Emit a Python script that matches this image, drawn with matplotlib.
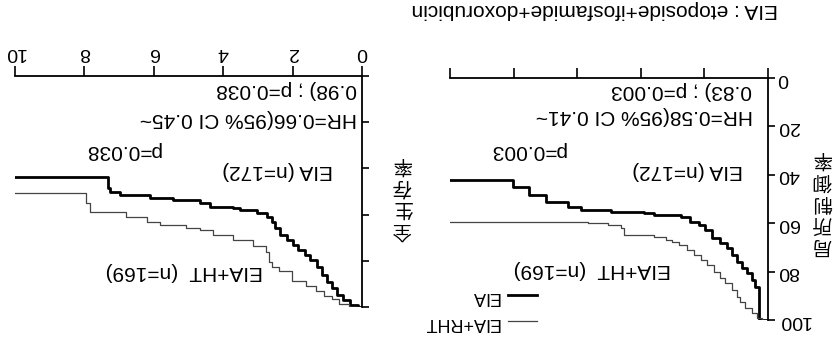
import matplotlib.pyplot as plt

plt.rcParams['font.family'] = ['Liberation Sans', 'Noto Sans CJK JP']

# local control rate (%), years
lc_eia_t = [0, 0.29, 0.4, 0.5, 0.66, 0.82, 0.97, 1.13, 1.29, 1.5, 1.76, 1.97, 2.18, 2.44, 2.75, 3.59, 3.9, 4.94, 5.88, 6.29, 6.98, 7.5, 8.02, 10]
lc_eia_v = [100, 86.2, 83.5, 80.7, 78.6, 75.9, 73.1, 70.4, 68.3, 66.2, 62.8, 60.7, 59.4, 57.3, 56.6, 55.9, 55.2, 54.5, 53.3, 51.2, 48.3, 45, 42.1, 42.1]
lc_ht_t = [0, 0.2, 0.34, 0.5, 0.71, 0.87, 0.97, 1.13, 1.34, 1.5, 1.7, 1.91, 2.12, 2.33, 2.54, 2.8, 3.01, 3.22, 3.59, 4.54, 4.63, 5.04, 5.66, 10]
lc_ht_v = [100, 99, 97.2, 95.2, 92.4, 90.4, 87.6, 84.8, 82.8, 80, 77.3, 75.2, 73.1, 71.1, 69, 67.6, 66.9, 65.6, 64.9, 62, 60.7, 59.9, 59.5, 59.5]

# overall survival rate (%), years
os_eia_t = [0, 0.11, 0.35, 0.54, 0.73, 0.87, 1.01, 1.16, 1.31, 1.5, 1.64, 1.84, 1.98, 2.17, 2.36, 2.51, 2.6, 2.75, 3.03, 3.52, 3.72, 4.38, 4.67, 5.45, 6.11, 6.97, 7.26, 7.32, 10]
os_eia_v = [100, 99, 97, 94.8, 91.9, 89, 86.1, 82.5, 79.7, 77.5, 75.3, 73.2, 71, 68.8, 65.9, 63.1, 60.9, 59.4, 58, 57.3, 56.6, 55, 53.7, 52.8, 51.5, 50.1, 48.5, 43.6, 43.6]
os_ht_t = [0, 0.37, 0.66, 0.86, 1.09, 1.33, 1.62, 2.01, 2.39, 2.58, 2.67, 2.77, 3.15, 3.73, 4.3, 4.68, 5.06, 5.83, 6.2, 6.79, 7.84, 7.94, 10]
os_ht_v = [100, 98.7, 96.5, 95.2, 93, 90.8, 88.6, 84.3, 82.8, 80.6, 76.3, 73.4, 71.2, 69, 66.8, 66, 64.6, 63.2, 61, 58.8, 55, 50.7, 50.7]

year_ticks = [0, 2, 4, 6, 8, 10]
pct_ticks = [0, 20, 40, 60, 80, 100]

W, H = 837, 337
fig = plt.figure(figsize=(W / 100, H / 100), dpi=100)

# the scanned page is upside down, so everything is drawn turned by 180 degrees
def box(x0, x1, y0, y1):
    return [x0 / W, 1 - y1 / H, (x1 - x0) / W, (y1 - y0) / H]

ax_lc = fig.add_axes(box(450, 768, 78, 320))
ax_os = fig.add_axes(box(15, 362, 76, 307))

for ax in (ax_lc, ax_os):
    ax.set_xlim(10, 0)
    ax.set_ylim(100, 0)
    ax.spines['left'].set_visible(False)
    ax.spines['bottom'].set_visible(False)
    ax.spines['top'].set_linewidth(1.3)
    ax.spines['right'].set_linewidth(1.3)
    ax.xaxis.tick_top()
    ax.yaxis.tick_right()
    ax.set_xticks(year_ticks)
    ax.set_yticks(pct_ticks)
    ax.tick_params(direction='out', width=1.2, labelsize=14)
    ax.tick_params(axis='x', length=7, pad=4)
    ax.tick_params(axis='y', length=5, pad=2)

ax_lc.tick_params(axis='x', labeltop=False)
ax_lc.tick_params(axis='y', labelrotation=180)
for lb in ax_lc.get_yticklabels():
    lb.set_va('center')
ax_os.tick_params(axis='y', labelright=False)
ax_os.tick_params(axis='x', labelrotation=180)

l1, = ax_lc.step(lc_eia_t, lc_eia_v, where='post', color='black', lw=2.0)
l2, = ax_lc.step(lc_ht_t, lc_ht_v, where='post', color='#444444', lw=0.9)
ax_os.step(os_eia_t, os_eia_v, where='post', color='black', lw=2.0)
ax_os.step(os_ht_t, os_ht_v, where='post', color='#444444', lw=0.9)

def note(ax, t, v, s):
    ax.text(t, v, s, rotation=180, ha='right', va='center', fontsize=15)

note(ax_lc, 0.49, 5, '0.83) ; p=0.003')
note(ax_lc, 0.46, 15.3, 'HR=0.58(95% CI 0.41~')
note(ax_lc, 6.35, 29.8, 'p=0.003')
note(ax_lc, 0.8, 38.4, 'EIA (n=172)')
note(ax_lc, 3.06, 79.3, 'EIA+HT  (n=169)')

note(ax_os, 0.15, 6, '0.98) ; p=0.038')
note(ax_os, 0.15, 18.2, 'HR=0.66(95% CI 0.45~')
note(ax_os, 5.81, 32.2, 'p=0.038')
note(ax_os, 0.84, 40.9, 'EIA (n=172)')
note(ax_os, 2.85, 84.6, 'EIA+HT  (n=169)')

leg = ax_lc.legend([l1, l2], ['EIA', 'EIA+RHT'], markerfirst=False, frameon=False,
                   loc='upper right', bbox_to_anchor=(537 / W, 1 - 288 / H),
                   bbox_transform=fig.transFigure, handlelength=1.6, fontsize=13,
                   borderpad=0, borderaxespad=0, handletextpad=0.5, labelspacing=0.5)
for t in leg.get_texts():
    t.set_rotation(180)

fig.text(822 / W, 1 - 202 / H, '局\n所\n制\n御\n率', rotation=180, ha='center', va='center',
         fontsize=14, linespacing=1.05, family=['Noto Sans CJK JP'])
fig.text(402 / W, 1 - 197 / H, '全\n生\n存\n率', rotation=180, ha='center', va='center',
         fontsize=14, linespacing=1.05, family=['Noto Sans CJK JP'])
fig.text(778 / W, 1 - 9 / H, 'EIA : etoposide+ifosfamide+doxorubicin', rotation=180,
         ha='right', va='center', fontsize=15)

fig.savefig('out.png', dpi=100)
